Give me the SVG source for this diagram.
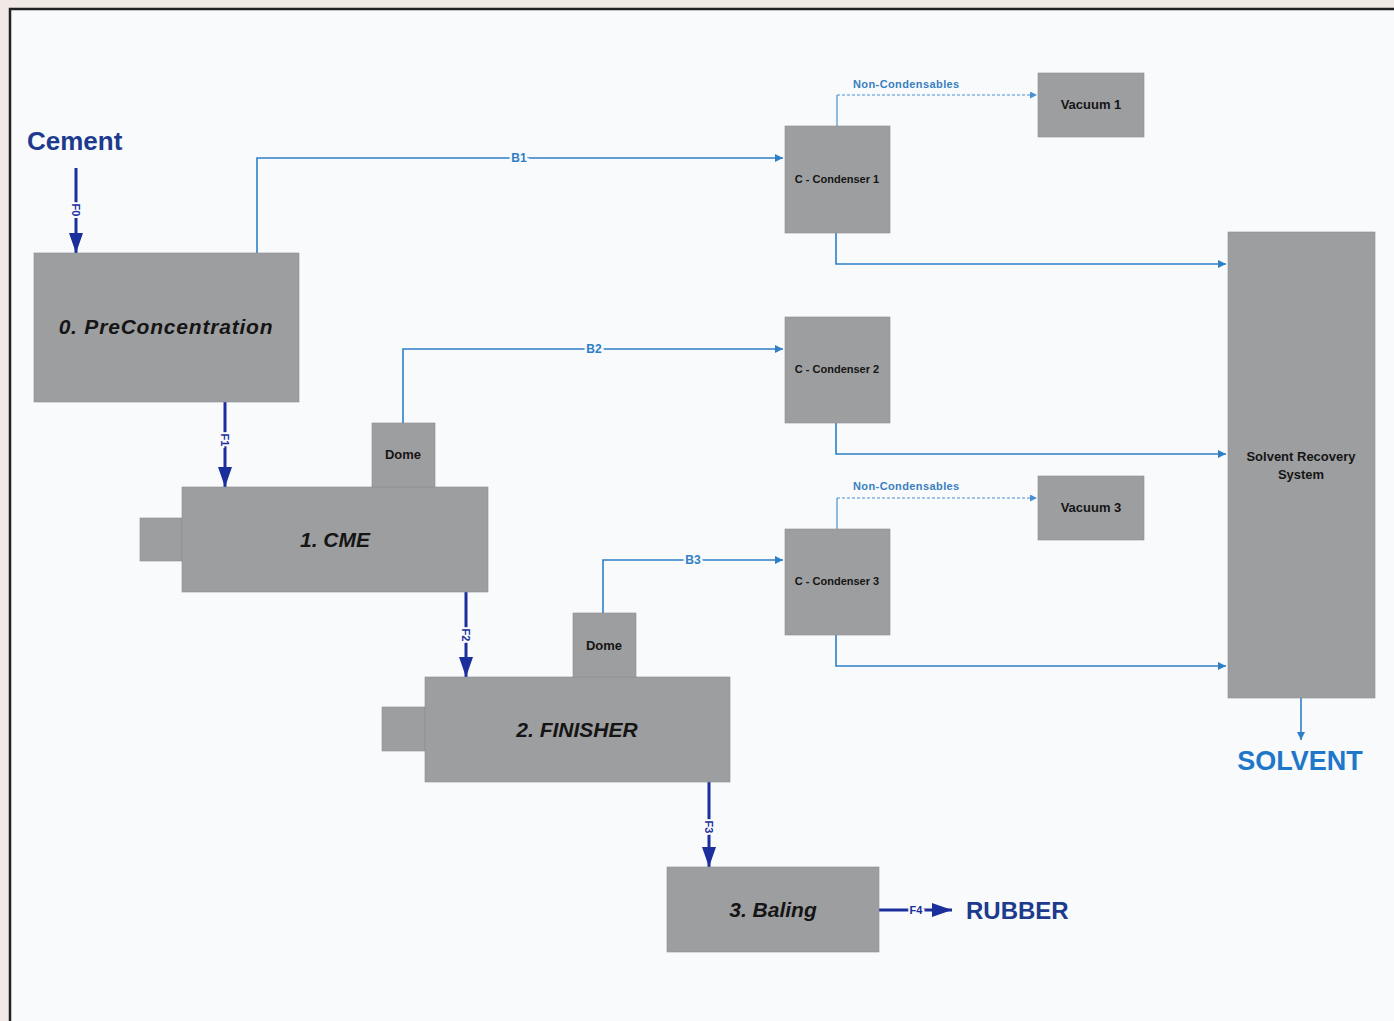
<svg xmlns="http://www.w3.org/2000/svg" width="1394" height="1021" viewBox="0 0 1394 1021">
<style>
.box{fill:#9d9ea0;stroke:#8c8d8f;stroke-width:0.6}
.big{font-family:"Liberation Sans",Arial,sans-serif;font-weight:bold;font-style:italic;font-size:21px;fill:#151515;text-anchor:middle}
.sm{font-family:"Liberation Sans",Arial,sans-serif;font-weight:bold;font-size:11px;fill:#151515;text-anchor:middle}
.md{font-family:"Liberation Sans",Arial,sans-serif;font-weight:bold;font-size:13px;fill:#151515;text-anchor:middle}
.flow{fill:none;stroke:#1b2f9c;stroke-width:3}
.vap{fill:none;stroke:#2e7fc6;stroke-width:1.6}
.nc{fill:none;stroke:#4a8fd0;stroke-width:1.2;stroke-dasharray:3 2}
.fl{font-family:"Liberation Sans",Arial,sans-serif;font-weight:bold;font-size:11px;fill:#1b2f9c;paint-order:stroke;stroke:#f8fafc;stroke-width:4}
.bl{font-family:"Liberation Sans",Arial,sans-serif;font-weight:bold;font-size:12px;fill:#2e7fc6;text-anchor:middle;paint-order:stroke;stroke:#f8fafc;stroke-width:5}
.ncl{font-family:"Liberation Sans",Arial,sans-serif;font-weight:bold;font-size:11px;fill:#3a7fc0;letter-spacing:0.4px}
.term{font-family:"Liberation Sans",Arial,sans-serif;font-weight:bold}
</style>
<defs>
<marker id="ah" viewBox="0 0 20 14" refX="20" refY="7" markerWidth="20" markerHeight="14" markerUnits="userSpaceOnUse" orient="auto">
<path d="M0,0 L20,7 L0,14 z" fill="#1b2f9c"/>
</marker>
<marker id="av" viewBox="0 0 8 8" refX="8" refY="4" markerWidth="8" markerHeight="8" markerUnits="userSpaceOnUse" orient="auto">
<path d="M0,0 L8,4 L0,8 z" fill="#2e7fc6"/>
</marker>
<marker id="an" viewBox="0 0 7 7" refX="7" refY="3.5" markerWidth="7" markerHeight="7" markerUnits="userSpaceOnUse" orient="auto">
<path d="M0,0 L7,3.5 L0,7 z" fill="#4a8fd0"/>
</marker>
</defs>
<rect x="0" y="0" width="1394" height="1021" fill="#f1e9e5"/>
<rect x="10" y="9" width="1400" height="1030" fill="#f8fafc" stroke="#222" stroke-width="2.5"/>

<g id="connectors">
<line class="flow" x1="76" y1="168" x2="76" y2="253" marker-end="url(#ah)"/>
<line class="flow" x1="225" y1="402" x2="225" y2="487" marker-end="url(#ah)"/>
<line class="flow" x1="466" y1="592" x2="466" y2="677" marker-end="url(#ah)"/>
<line class="flow" x1="709" y1="782" x2="709" y2="867" marker-end="url(#ah)"/>
<line class="flow" x1="879" y1="910" x2="952" y2="910" marker-end="url(#ah)"/>
<text class="fl" transform="translate(72,210) rotate(90)" text-anchor="middle">F0</text>
<text class="fl" transform="translate(221,440) rotate(90)" text-anchor="middle">F1</text>
<text class="fl" transform="translate(462,635) rotate(90)" text-anchor="middle">F2</text>
<text class="fl" transform="translate(705,827) rotate(90)" text-anchor="middle">F3</text>
<text class="fl" x="916" y="914" text-anchor="middle">F4</text>

<polyline class="vap" points="257,253 257,158 783,158" marker-end="url(#av)"/>
<text class="bl" x="519" y="162">B1</text>
<polyline class="vap" points="403,423 403,349 783,349" marker-end="url(#av)"/>
<text class="bl" x="594" y="353">B2</text>
<polyline class="vap" points="603,613 603,560 783,560" marker-end="url(#av)"/>
<text class="bl" x="693" y="564">B3</text>

<polyline class="vap" points="836,233 836,264 1226,264" marker-end="url(#av)"/>
<polyline class="vap" points="836,423 836,454 1226,454" marker-end="url(#av)"/>
<polyline class="vap" points="836,635 836,666 1226,666" marker-end="url(#av)"/>
<line class="vap" x1="1301" y1="698" x2="1301" y2="740" marker-end="url(#av)"/>

<line x1="837" y1="126" x2="837" y2="95" stroke="#4a8fd0" stroke-width="1.2"/>
<line class="nc" x1="837" y1="95" x2="1037" y2="95" marker-end="url(#an)"/>
<text class="ncl" x="853" y="88">Non-Condensables</text>
<line x1="837" y1="529" x2="837" y2="498" stroke="#4a8fd0" stroke-width="1.2"/>
<line class="nc" x1="837" y1="498" x2="1037" y2="498" marker-end="url(#an)"/>
<text class="ncl" x="853" y="490">Non-Condensables</text>
</g>

<g id="cement"><text class="term" x="27" y="150" font-size="26" fill="#1e3a8f">Cement</text></g>
<g id="rubber"><text class="term" x="966" y="919" font-size="24" fill="#1e3a8f">RUBBER</text></g>
<g id="solvent"><text class="term" x="1300" y="770" font-size="27" fill="#1f77c9" text-anchor="middle">SOLVENT</text></g>

<g id="preconcentration">
<rect class="box" x="34" y="253" width="265" height="149"/>
<text class="big" x="166" y="334" letter-spacing="0.8">0. PreConcentration</text>
</g>
<g id="cme">
<rect class="box" x="140" y="518" width="42" height="43"/>
<rect class="box" x="182" y="487" width="306" height="105"/>
<text class="big" x="335" y="547">1. CME</text>
</g>
<g id="dome1">
<rect class="box" x="372" y="423" width="63" height="64"/>
<text class="md" x="403" y="459">Dome</text>
</g>
<g id="finisher">
<rect class="box" x="382" y="707" width="43" height="44"/>
<rect class="box" x="425" y="677" width="305" height="105"/>
<text class="big" x="577" y="737">2. FINISHER</text>
</g>
<g id="dome2">
<rect class="box" x="573" y="613" width="63" height="64"/>
<text class="md" x="604" y="650">Dome</text>
</g>
<g id="baling">
<rect class="box" x="667" y="867" width="212" height="85"/>
<text class="big" x="773" y="917">3. Baling</text>
</g>
<g id="condenser1">
<rect class="box" x="785" y="126" width="105" height="107"/>
<text class="sm" x="837" y="183">C - Condenser 1</text>
</g>
<g id="condenser2">
<rect class="box" x="785" y="317" width="105" height="106"/>
<text class="sm" x="837" y="373">C - Condenser 2</text>
</g>
<g id="condenser3">
<rect class="box" x="785" y="529" width="105" height="106"/>
<text class="sm" x="837" y="585">C - Condenser 3</text>
</g>
<g id="vacuum1">
<rect class="box" x="1038" y="73" width="106" height="64"/>
<text class="md" x="1091" y="109">Vacuum 1</text>
</g>
<g id="vacuum3">
<rect class="box" x="1038" y="476" width="106" height="64"/>
<text class="md" x="1091" y="512">Vacuum 3</text>
</g>
<g id="solvent-recovery">
<rect class="box" x="1228" y="232" width="147" height="466"/>
<text class="md" x="1301" y="461">Solvent Recovery</text>
<text class="md" x="1301" y="479">System</text>
</g>
</svg>
